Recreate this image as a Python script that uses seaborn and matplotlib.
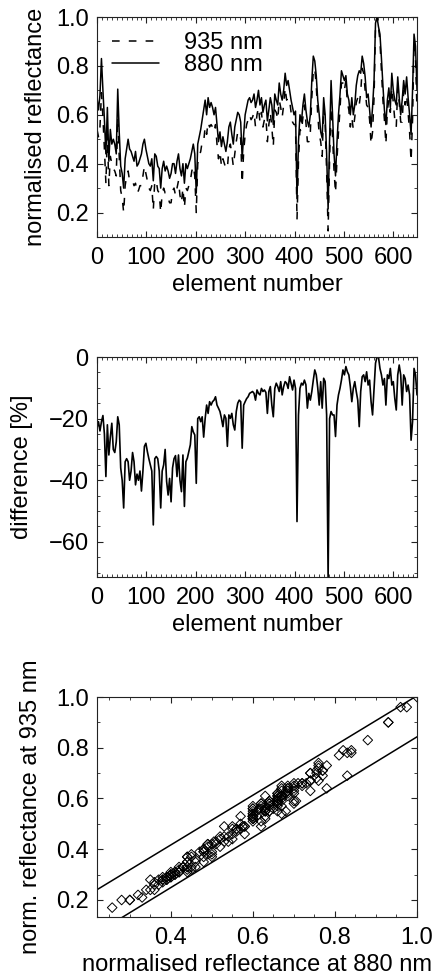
import numpy as np
import pandas as pd
import matplotlib
matplotlib.use("Agg")
import matplotlib.pyplot as plt
import seaborn as sns
from matplotlib.ticker import MultipleLocator

# ---------------- data ----------------
element = np.arange(0, 649, 3)   # detector element numbers 0..648

refl_880 = [
    0.67, 0.62, 0.68, 0.83, 0.70, 0.58, 0.44, 0.63, 0.41, 0.54,
    0.48, 0.50, 0.48, 0.44, 0.705, 0.53, 0.39, 0.36, 0.30, 0.42,
    0.46, 0.50, 0.46, 0.45, 0.43, 0.41, 0.45, 0.39, 0.40, 0.42,
    0.44, 0.48, 0.50, 0.46, 0.43, 0.40, 0.39, 0.42, 0.33, 0.44,
    0.43, 0.39, 0.38, 0.30, 0.38, 0.41, 0.37, 0.39, 0.37, 0.34,
    0.36, 0.40, 0.40, 0.36, 0.41, 0.44, 0.38, 0.35, 0.40, 0.32,
    0.40, 0.38, 0.40, 0.42, 0.45, 0.48, 0.44, 0.28, 0.48, 0.51,
    0.54, 0.58, 0.62, 0.66, 0.60, 0.67, 0.63, 0.65, 0.63, 0.60,
    0.63, 0.56, 0.49, 0.53, 0.47, 0.51, 0.48, 0.45, 0.49, 0.55,
    0.57, 0.52, 0.48, 0.55, 0.58, 0.61, 0.60, 0.57, 0.42, 0.52,
    0.60, 0.63, 0.66, 0.67, 0.65, 0.66, 0.685, 0.63, 0.66, 0.70,
    0.64, 0.67, 0.61, 0.64, 0.66, 0.575, 0.62, 0.67, 0.64, 0.56,
    0.685, 0.66, 0.64, 0.73, 0.685, 0.66, 0.70, 0.77, 0.72, 0.74,
    0.70, 0.66, 0.63, 0.60, 0.615, 0.257, 0.49, 0.60, 0.57, 0.64,
    0.685, 0.62, 0.575, 0.55, 0.60, 0.74, 0.84, 0.82, 0.76, 0.66,
    0.60, 0.53, 0.505, 0.67, 0.60, 0.44, 0.215, 0.50, 0.74, 0.60,
    0.44, 0.35, 0.49, 0.60, 0.68, 0.78, 0.76, 0.74, 0.76, 0.685,
    0.66, 0.60, 0.67, 0.60, 0.64, 0.72, 0.76, 0.78, 0.77, 0.84,
    0.81, 0.755, 0.67, 0.685, 0.62, 0.55, 0.63, 0.74, 0.975, 1.00,
    0.96, 0.93, 0.83, 0.72, 0.62, 0.56, 0.66, 0.71, 0.63, 0.77,
    0.70, 0.66, 0.64, 0.755, 0.67, 0.60, 0.66, 0.74, 0.685, 0.755,
    0.67, 0.60, 0.52, 0.70, 0.93, 0.88, 0.70,
]

refl_935 = [
    0.54, 0.51, 0.55, 0.69, 0.59, 0.46, 0.32, 0.52, 0.31, 0.43,
    0.40, 0.38, 0.37, 0.35, 0.59, 0.43, 0.29, 0.26, 0.20, 0.31,
    0.35, 0.37, 0.33, 0.33, 0.33, 0.31, 0.32, 0.28, 0.29, 0.31,
    0.31, 0.35, 0.39, 0.36, 0.33, 0.30, 0.29, 0.31, 0.21, 0.33,
    0.33, 0.29, 0.28, 0.20, 0.28, 0.30, 0.28, 0.28, 0.26, 0.24,
    0.24, 0.29, 0.30, 0.27, 0.30, 0.33, 0.27, 0.24, 0.30, 0.22,
    0.30, 0.29, 0.31, 0.33, 0.37, 0.39, 0.35, 0.20, 0.40, 0.43,
    0.45, 0.49, 0.49, 0.55, 0.52, 0.57, 0.55, 0.56, 0.55, 0.53,
    0.56, 0.48, 0.42, 0.45, 0.39, 0.42, 0.40, 0.38, 0.38, 0.46,
    0.48, 0.44, 0.39, 0.44, 0.49, 0.53, 0.53, 0.50, 0.32, 0.45,
    0.52, 0.56, 0.58, 0.60, 0.58, 0.59, 0.61, 0.55, 0.60, 0.63,
    0.57, 0.61, 0.55, 0.58, 0.59, 0.49, 0.56, 0.61, 0.55, 0.47,
    0.62, 0.61, 0.58, 0.66, 0.63, 0.59, 0.64, 0.71, 0.66, 0.67,
    0.66, 0.61, 0.57, 0.56, 0.56, 0.17, 0.41, 0.54, 0.53, 0.59,
    0.64, 0.57, 0.49, 0.49, 0.53, 0.67, 0.78, 0.79, 0.72, 0.60,
    0.52, 0.49, 0.43, 0.63, 0.56, 0.37, 0.125, 0.42, 0.63, 0.51,
    0.37, 0.28, 0.42, 0.53, 0.62, 0.73, 0.73, 0.70, 0.74, 0.65,
    0.62, 0.55, 0.59, 0.54, 0.59, 0.65, 0.67, 0.64, 0.69, 0.79,
    0.77, 0.70, 0.64, 0.63, 0.58, 0.48, 0.53, 0.67, 0.96, 1.00,
    0.96, 0.90, 0.78, 0.66, 0.58, 0.48, 0.62, 0.66, 0.61, 0.71,
    0.65, 0.58, 0.55, 0.71, 0.65, 0.57, 0.57, 0.70, 0.64, 0.68,
    0.61, 0.53, 0.41, 0.58, 0.90, 0.83, 0.62,
]

difference = [
    -23, -21, -24, -21, -19, -25, -38.8, -22, -31.8, -26,
    -21.5, -30, -31, -27.5, -19.4, -22, -36, -40, -49, -34,
    -33, -34, -40, -37, -31, -34, -41.5, -38, -40, -37,
    -43.5, -37, -29, -28, -30.7, -33, -35, -37, -54.5, -33,
    -32.3, -33, -37, -49, -37, -35, -30, -40.4, -44.8, -39.4,
    -47, -36, -33, -32, -38.8, -31.8, -40, -43.7, -31.8, -48.5,
    -34, -32.8, -30.7, -28.5, -22.6, -24.3, -25.3, -41, -20, -19.4,
    -21, -19.4, -26, -20, -15.6, -18.3, -14.5, -15.6, -14.5, -14,
    -12.9, -15.6, -16.6, -17.7, -19.9, -22.6, -18.8, -19.9, -29, -18.8,
    -19.9, -18.3, -22, -23.7, -17.7, -15, -14, -14.5, -29.6, -15.6,
    -14.5, -13.5, -12.9, -11.8, -11.5, -11.2, -11.8, -14, -10.7, -11.8,
    -12.3, -10.2, -11.2, -10.7, -11.5, -18.3, -11.2, -9.6, -15.6, -19.4,
    -10.2, -8.5, -9.6, -11.2, -8, -12.3, -9.6, -8, -8.5, -10.2,
    -6.4, -8.5, -10.7, -7.5, -10.2, -53.4, -18.8, -10.2, -8.5, -9.1,
    -7.5, -9, -16.6, -11.8, -14, -11.2, -7.5, -4.2, -5.8, -10,
    -15.6, -8, -16.6, -6.9, -8, -18.8, -72, -20, -17.7, -18.8,
    -18.8, -25.8, -15.6, -12.3, -10.2, -7.5, -4.2, -5.8, -3.1, -4.8,
    -5.8, -9.6, -14.5, -10.2, -8, -11.2, -14, -22.6, -11.2, -6.4,
    -5.8, -8, -4.8, -9.1, -7.5, -14.5, -18.8, -10.2, -2, 0,
    0, -3.7, -5.8, -9.1, -7, -15.6, -5.8, -7, -3.7, -9.1,
    -8, -13.4, -17.2, -5.8, -2.6, -5.8, -15.6, -5.8, -7, -11.2,
    -9.1, -12.3, -27, -21, -3.7, -5.8, -12.3,
]

# envelope lines in the scatter panel (slope, intercept)
upper_line = (0.98, 0.025)
lower_line = (0.99, -0.147)
line_x = [0.0, 1.1]

labels = ["935 nm", "880 nm"]

df = pd.DataFrame({"element": element, "r880": refl_880,
                   "r935": refl_935, "diff": difference})
bounds = pd.DataFrame({"x": line_x,
                       "upper": [upper_line[0] * v + upper_line[1] for v in line_x],
                       "lower": [lower_line[0] * v + lower_line[1] for v in line_x]})

# ---------------- style ----------------
sns.set_theme(style="ticks")
plt.rcParams["font.family"] = ["Liberation Sans", "DejaVu Sans"]
FS = 17
plt.rcParams.update({
    "font.size": FS,
    "text.color": "black",
    "axes.labelcolor": "black",
    "axes.linewidth": 0.8,
    "axes.edgecolor": "#222222",
    "xtick.direction": "in",
    "ytick.direction": "in",
    "xtick.top": True,
    "ytick.right": True,
    "xtick.major.size": 4.5,
    "ytick.major.size": 4.5,
    "xtick.minor.size": 2.2,
    "ytick.minor.size": 2.2,
    "xtick.major.width": 0.8,
    "ytick.major.width": 0.8,
    "xtick.minor.width": 0.6,
    "ytick.minor.width": 0.6,
    "xtick.color": "#222222",
    "ytick.color": "#222222",
    "xtick.labelcolor": "black",
    "ytick.labelcolor": "black",
    "xtick.labelsize": FS,
    "ytick.labelsize": FS,
    "xtick.major.pad": 7,
    "ytick.major.pad": 6,
    "axes.labelsize": FS,
})

W, H = 435, 980
fig = plt.figure(figsize=(W / 100, H / 100), dpi=100)


def add_ax(top_px):
    return fig.add_axes([97 / W, 1 - (top_px + 220) / H, 320 / W, 220 / H])


ax1 = add_ax(17)
ax2 = add_ax(357)
ax3 = add_ax(697)

# ---- panel 1 ----
sns.lineplot(data=df, x="element", y="r935", ax=ax1, color="black", lw=1.1,
             linestyle=(0, (5, 6)), label=labels[0], errorbar=None)
sns.lineplot(data=df, x="element", y="r880", ax=ax1, color="black", lw=1.1,
             label=labels[1], errorbar=None)
ax1.set_xlim(0, 648)
ax1.set_ylim(0.1, 1.0)
ax1.xaxis.set_major_locator(MultipleLocator(100))
ax1.xaxis.set_minor_locator(MultipleLocator(10))
ax1.yaxis.set_major_locator(MultipleLocator(0.2))
ax1.yaxis.set_minor_locator(MultipleLocator(0.1))
ax1.set_xlabel("element number")
ax1.set_ylabel("normalised reflectance")
ax1.yaxis.set_label_coords(-0.156, 0.5)
ax1.legend(loc="upper left", bbox_to_anchor=(0.047, 0.93), frameon=False,
           borderpad=0, borderaxespad=0, handlelength=2.0, handletextpad=1.05,
           labelspacing=0.0, fontsize=FS)

# ---- panel 2 ----
sns.lineplot(data=df, x="element", y="diff", ax=ax2, color="black", lw=1.2,
             errorbar=None)
ax2.set_xlim(0, 648)
ax2.set_ylim(-71.4, 0)
ax2.xaxis.set_major_locator(MultipleLocator(100))
ax2.xaxis.set_minor_locator(MultipleLocator(10))
ax2.yaxis.set_major_locator(MultipleLocator(20))
ax2.yaxis.set_minor_locator(MultipleLocator(5))
ax2.set_xlabel("element number")
ax2.set_ylabel("difference [%]")
ax2.yaxis.set_label_coords(-0.2, 0.5)

# ---- panel 3 ----
sns.scatterplot(data=df, x="r880", y="r935", ax=ax3, marker="D", s=24,
                facecolor="none", edgecolor="black", linewidth=0.7)
sns.lineplot(data=bounds, x="x", y="upper", ax=ax3, color="black", lw=1.1)
sns.lineplot(data=bounds, x="x", y="lower", ax=ax3, color="black", lw=1.1)
ax3.set_xlim(0.22, 1.0)
ax3.set_ylim(0.133, 1.0)
ax3.xaxis.set_major_locator(MultipleLocator(0.2))
ax3.xaxis.set_minor_locator(MultipleLocator(0.05))
ax3.yaxis.set_major_locator(MultipleLocator(0.2))
ax3.yaxis.set_minor_locator(MultipleLocator(0.1))
ax3.set_xlabel("normalised reflectance at 880 nm")
ax3.set_ylabel("norm. reflectance at 935 nm")
ax3.yaxis.set_label_coords(-0.172, 0.5)

for ax in (ax1, ax2, ax3):
    for sp in ax.spines.values():
        sp.set_visible(True)

fig.savefig("out.png", dpi=100)
